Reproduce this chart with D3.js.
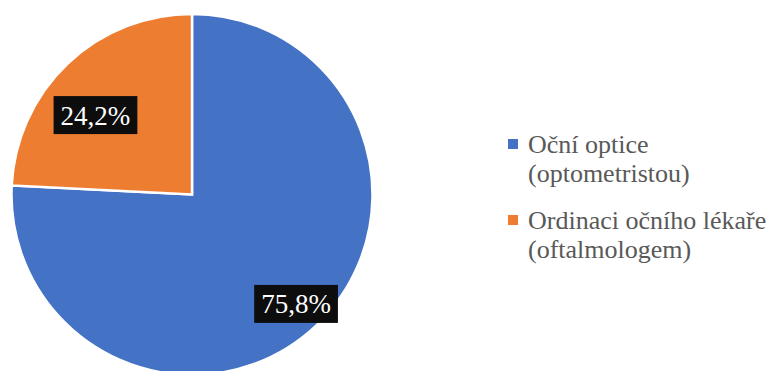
<!DOCTYPE html>
<html>
<head>
<meta charset="utf-8">
<script src="https://cdn.jsdelivr.net/npm/d3@7"></script>
<style>
  html, body { margin: 0; padding: 0; background: #fff; }
  svg { display: block; }
</style>
</head>
<body>
<svg id="chart" width="775" height="371"></svg>
<script>
// Where eye examinations take place (share of respondents, %)
const categories = ["Oční optice (optometristou)", "Ordinaci očního lékaře (oftalmologem)"];
const legendLines = [["Oční optice", "(optometristou)"], ["Ordinaci očního lékaře", "(oftalmologem)"]];
const values = [75.8, 24.2];
const valueLabels = ["75,8%", "24,2%"];
const colors = ["#4472C4", "#ED7D31"];

const FONT = "Liberation Serif";
const svg = d3.select("#chart");
const cx = 192, cy = 194.5, R = 180.5;

const pie = d3.pie().sort(null).value(d => d)(values);
const arc = d3.arc().innerRadius(0).outerRadius(R);

const g = svg.append("g").attr("transform", `translate(${cx},${cy})`);

g.selectAll("path.slice")
  .data(pie)
  .join("path")
  .attr("class", "slice")
  .attr("d", arc)
  .attr("fill", (d, i) => colors[i])
  .attr("stroke", "#fff")
  .attr("stroke-width", 2.5)
  .attr("stroke-linejoin", "miter");

// Data labels: white text on dark boxes, placed inside each slice
const labelPlace = [
  { r: 151, shift: 0 },
  { r: 125, shift: -7 * Math.PI / 180 }
];
const labelSize = 27;

const labels = g.selectAll("g.lbl")
  .data(pie)
  .join("g")
  .attr("class", "lbl")
  .attr("transform", (d, i) => {
    const a = (d.startAngle + d.endAngle) / 2 + labelPlace[i].shift;
    const r = labelPlace[i].r;
    return `translate(${r * Math.sin(a)},${-r * Math.cos(a)})`;
  });

labels.each(function(d, i) {
  const sel = d3.select(this);
  const t = sel.append("text")
    .attr("font-family", FONT)
    .attr("font-size", labelSize)
    .attr("text-anchor", "middle")
    .attr("y", 9.5)
    .attr("fill", "#fff")
    .text(valueLabels[i]);
  const bb = t.node().getBBox();
  const padX = 7;
  sel.insert("rect", "text")
    .attr("x", bb.x - padX)
    .attr("y", -19)
    .attr("width", bb.width + 2 * padX)
    .attr("height", 38)
    .attr("fill", "#0d0d0d");
});

// Legend
const legend = svg.append("g").attr("transform", "translate(508,139)");
const itemStep = 76;
const lineStep = 28.5;

const items = legend.selectAll("g.item")
  .data(categories)
  .join("g")
  .attr("class", "item")
  .attr("transform", (d, i) => `translate(0,${i * itemStep})`);

items.append("rect")
  .attr("width", 10)
  .attr("height", 10)
  .attr("fill", (d, i) => colors[i]);

items.append("text")
  .attr("font-family", FONT)
  .attr("font-size", 26)
  .attr("x", 20)
  .attr("y", 14)
  .attr("fill", "#595959")
  .selectAll("tspan")
  .data((d, i) => legendLines[i])
  .join("tspan")
  .attr("x", 20)
  .attr("dy", (d, j) => j === 0 ? 0 : lineStep)
  .text(d => d);
</script>
</body>
</html>
